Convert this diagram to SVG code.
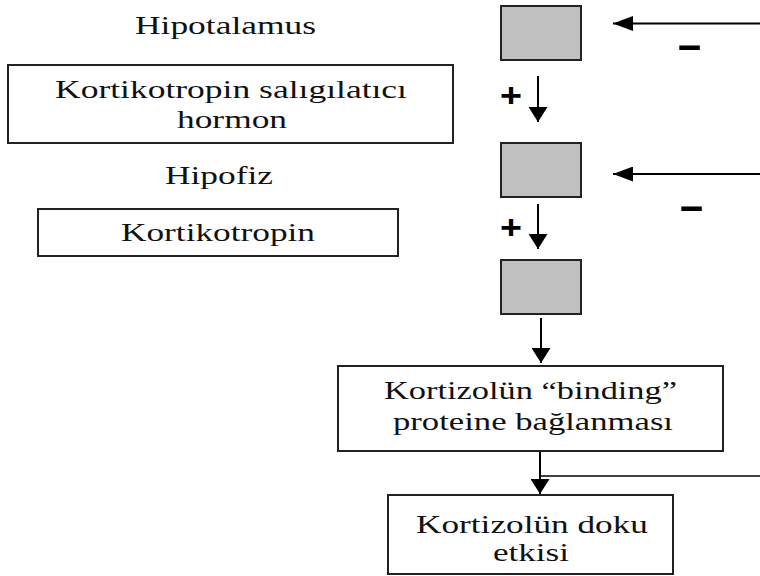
<svg xmlns="http://www.w3.org/2000/svg" width="760" height="576" viewBox="0 0 760 576">
<defs>
<style>
.box{fill:#fff;stroke:#222;stroke-width:2}
.gray{fill:#c0c0c0;stroke:#222;stroke-width:2}
.t{font-family:'Liberation Serif','Times New Roman',serif;font-size:25px;fill:#111}
.sym{font-family:'Liberation Sans',Arial,sans-serif;font-weight:bold;fill:#000}
.ln{stroke:#000;stroke-width:2;fill:none}
</style>
<marker id="ahd" markerUnits="userSpaceOnUse" viewBox="0 0 15 19" refX="15" refY="9.5" markerWidth="15" markerHeight="19" orient="auto">
<path d="M0,0 L15,9.5 L0,19 z" fill="#000"/>
</marker>
<marker id="ahl" markerUnits="userSpaceOnUse" viewBox="0 0 20 15" refX="20" refY="7.5" markerWidth="20" markerHeight="15" orient="auto">
<path d="M0,0 L20,7.5 L0,15 z" fill="#000"/>
</marker>
</defs>
<rect width="760" height="576" fill="#fff"/>

<g id="hipotalamus-label"><text class="t" x="135" y="34" textLength="181" lengthAdjust="spacingAndGlyphs">Hipotalamus</text></g>
<g id="hipotalamus-box"><rect class="gray" x="501" y="6" width="80" height="54"/></g>

<g id="crh"><rect class="box" x="8" y="65" width="445" height="78"/>
<text class="t" x="55" y="98" textLength="352" lengthAdjust="spacingAndGlyphs">Kortikotropin salıgılatıcı</text>
<text class="t" x="177" y="128" textLength="110" lengthAdjust="spacingAndGlyphs">hormon</text></g>

<g id="hipofiz-label"><text class="t" x="165" y="184" textLength="108" lengthAdjust="spacingAndGlyphs">Hipofiz</text></g>
<g id="hipofiz-box"><rect class="gray" x="501" y="143" width="80" height="54"/></g>

<g id="acth"><rect class="box" x="38" y="209" width="360" height="47"/>
<text class="t" x="121" y="241" textLength="194" lengthAdjust="spacingAndGlyphs">Kortikotropin</text></g>

<g id="adrenal-box"><rect class="gray" x="501" y="260" width="80" height="54"/></g>

<g id="binding"><rect class="box" x="338" y="366" width="385" height="85"/>
<text class="t" x="384" y="399" textLength="293" lengthAdjust="spacingAndGlyphs">Kortizolün “binding”</text>
<text class="t" x="393" y="430" textLength="280" lengthAdjust="spacingAndGlyphs">proteine bağlanması</text></g>

<g id="doku"><rect class="box" x="388" y="495" width="285" height="79"/>
<text class="t" x="416" y="533" textLength="232" lengthAdjust="spacingAndGlyphs">Kortizolün doku</text>
<text class="t" x="493" y="561" textLength="76" lengthAdjust="spacingAndGlyphs">etkisi</text></g>

<g id="connectors">
<line class="ln" x1="760" y1="23.5" x2="613" y2="23.5" marker-end="url(#ahl)"/>
<line class="ln" x1="760" y1="174" x2="613" y2="174" marker-end="url(#ahl)"/>
<line class="ln" x1="538" y1="76" x2="538" y2="122" marker-end="url(#ahd)"/>
<line class="ln" x1="538" y1="204" x2="538" y2="249" marker-end="url(#ahd)"/>
<line class="ln" x1="541" y1="318" x2="541" y2="363" marker-end="url(#ahd)"/>
<line class="ln" x1="540" y1="452" x2="540" y2="494" marker-end="url(#ahd)"/>
<line x1="540" y1="476" x2="760" y2="476" stroke="#000" stroke-width="1.5"/>
<text class="sym" font-size="34" x="511" y="107" text-anchor="middle" textLength="22" lengthAdjust="spacingAndGlyphs">+</text>
<text class="sym" font-size="34" x="511" y="239" text-anchor="middle" textLength="22" lengthAdjust="spacingAndGlyphs">+</text>
<text class="sym" font-size="44" x="689.5" y="60" text-anchor="middle" textLength="23" lengthAdjust="spacingAndGlyphs">–</text>
<text class="sym" font-size="44" x="691.5" y="221" text-anchor="middle" textLength="23" lengthAdjust="spacingAndGlyphs">–</text>
</g>
</svg>
